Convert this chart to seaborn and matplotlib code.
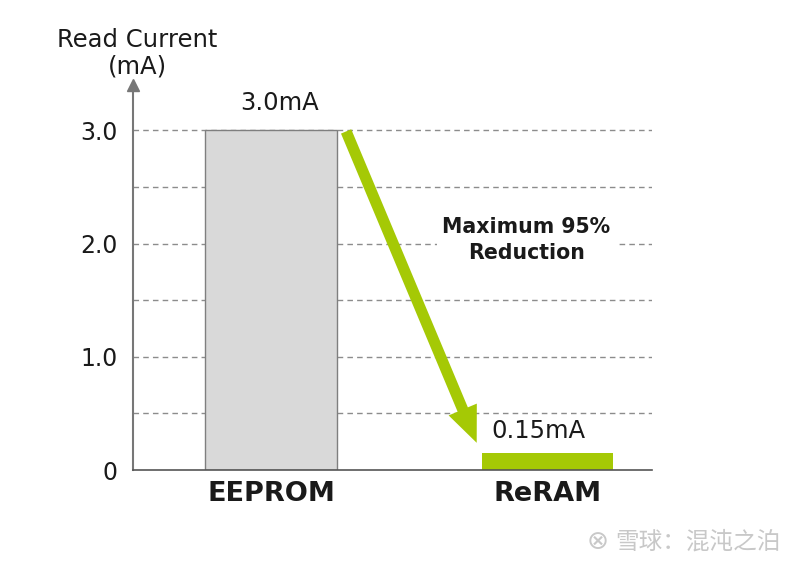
import numpy as np
import pandas as pd
import matplotlib
matplotlib.use("Agg")
import matplotlib.pyplot as plt
import seaborn as sns

memory = ["EEPROM", "ReRAM"]
read_current = [3.0, 0.15]
value_labels = ["3.0mA", "0.15mA"]
bar_colors = ["#d9d9d9", "#a5c905"]
ytick_values = [0, 1, 2, 3]
ytick_labels = ["0", "1.0", "2.0", "3.0"]
grid_values = [0.5, 1.0, 1.5, 2.0, 2.5, 3.0]

sns.set_theme(style="white")
plt.rcParams['font.family'] = ['DejaVu Sans']

df = pd.DataFrame({'memory': memory, 'current': read_current})

fig = plt.figure(figsize=(8, 5.66), dpi=100)
ax = fig.add_axes([133 / 800, 96 / 566, 519 / 800, 385 / 566])

for g in grid_values:
    ax.axhline(g, color="#8c8c8c", lw=1, ls=(0, (4, 3)), zorder=0)

sns.barplot(data=df, x='memory', y='current', hue='memory', palette=bar_colors,
            saturation=1, width=0.475, legend=False, ax=ax, zorder=2)
ax.patches[0].set_edgecolor("#7f7f7f")
ax.patches[0].set_linewidth(1)
ax.patches[1].set_edgecolor("none")

ax.set_xlim(-0.5, 1.38)
ax.set_ylim(0, 3.4)
ax.set_xlabel("")
ax.set_ylabel("")
ax.set_yticks(ytick_values)
ax.set_yticklabels(ytick_labels, fontsize=17, color="#1a1a1a")
ax.tick_params(axis='y', length=0, pad=11)
ax.tick_params(axis='x', length=0, pad=8)
for lab in ax.get_xticklabels():
    lab.set_fontsize(19.5)
    lab.set_fontweight('bold')
    lab.set_color("#1a1a1a")

for s in ['top', 'right']:
    ax.spines[s].set_visible(False)
ax.spines['left'].set_color("#777777")
ax.spines['bottom'].set_color("#555555")
ax.spines['left'].set_linewidth(1.5)
ax.spines['bottom'].set_linewidth(1.2)
ax.plot([0], [1.0], marker='^', color="#777777", markersize=9,
        transform=ax.transAxes, clip_on=False)

# value labels
ax.text(0.03, read_current[0] + 0.24, value_labels[0], ha='center', va='center',
        fontsize=17.5, color="#1a1a1a", zorder=5)
ax.text(0.97, read_current[1] + 0.19, value_labels[1], ha='center', va='center',
        fontsize=17.5, color="#1a1a1a", zorder=5,
        bbox=dict(facecolor='white', edgecolor='none', pad=2))

# reduction arrow
ax.annotate("", xy=(0.745, 0.24), xytext=(0.272, 2.99),
            arrowprops=dict(arrowstyle="simple,head_length=2.6,head_width=2.2,tail_width=0.8",
                            mutation_scale=10, color="#a5c905", lw=0,
                            shrinkA=0, shrinkB=0),
            zorder=4)
ax.text(0.925, 2.03, "Maximum 95%\nReduction", ha='center', va='center',
        fontsize=14.8, fontweight='bold', color="#1a1a1a", linespacing=1.35, zorder=5,
        bbox=dict(facecolor='white', edgecolor='none', pad=4))

fig.text(137 / 800, 1 - 53 / 566, "Read Current\n(mA)", ha='center', va='center',
         fontsize=17.5, color="#1a1a1a", linespacing=1.15)

fig.text(698 / 800, 1 - 542 / 566, "雪球：混沌之泊", ha='center', va='center',
         fontsize=17, color="#c8c8c8", family=['Noto Sans CJK SC', 'DejaVu Sans'])
fig.text(598 / 800, 1 - 542 / 566, "⊗", ha='center', va='center',
         fontsize=19, color="#c8c8c8", family=['DejaVu Sans'])

fig.savefig("out.png", dpi=100)
